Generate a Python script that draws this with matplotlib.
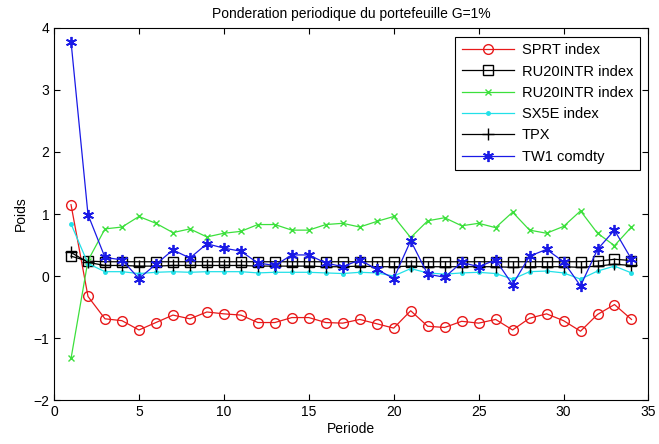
import numpy as np
import matplotlib
matplotlib.use("Agg")
import matplotlib.pyplot as plt

plt.rcParams['font.family'] = ['Liberation Sans Narrow', 'Liberation Sans', 'DejaVu Sans']

periods = np.arange(1, 35)

sprt = [1.15, -0.33, -0.69, -0.72, -0.87, -0.75, -0.63, -0.69, -0.58, -0.61,
        -0.63, -0.75, -0.75, -0.67, -0.67, -0.75, -0.76, -0.70, -0.77, -0.84,
        -0.56, -0.81, -0.83, -0.73, -0.76, -0.70, -0.87, -0.68, -0.61, -0.72,
        -0.89, -0.62, -0.46, -0.70]
ru20_sq = [0.32, 0.24, 0.23, 0.23, 0.23, 0.23, 0.23, 0.23, 0.23, 0.23,
           0.23, 0.23, 0.23, 0.23, 0.23, 0.23, 0.23, 0.23, 0.23, 0.23,
           0.23, 0.23, 0.23, 0.23, 0.23, 0.23, 0.23, 0.23, 0.23, 0.23,
           0.23, 0.24, 0.27, 0.25]
ru20_x = [-1.33, 0.25, 0.76, 0.79, 0.96, 0.85, 0.70, 0.76, 0.63, 0.69,
          0.72, 0.83, 0.83, 0.74, 0.74, 0.83, 0.85, 0.79, 0.88, 0.96,
          0.62, 0.89, 0.94, 0.81, 0.85, 0.78, 1.03, 0.74, 0.69, 0.80,
          1.05, 0.69, 0.49, 0.79]
sx5e = [0.84, 0.20, 0.07, 0.07, 0.04, 0.06, 0.07, 0.06, 0.07, 0.07,
        0.07, 0.05, 0.06, 0.06, 0.06, 0.05, 0.04, 0.06, 0.05, 0.00,
        0.12, 0.05, 0.03, 0.05, 0.06, 0.04, -0.05, 0.07, 0.08, 0.05,
        -0.05, 0.08, 0.16, 0.05]
tpx = [0.38, 0.22, 0.17, 0.17, 0.16, 0.16, 0.17, 0.17, 0.17, 0.17,
       0.17, 0.16, 0.16, 0.16, 0.16, 0.15, 0.15, 0.16, 0.15, 0.15,
       0.16, 0.15, 0.15, 0.15, 0.15, 0.15, 0.14, 0.15, 0.15, 0.15,
       0.14, 0.16, 0.19, 0.17]
tw1 = [3.78, 0.99, 0.30, 0.26, -0.04, 0.19, 0.42, 0.29, 0.52, 0.45,
       0.40, 0.21, 0.17, 0.34, 0.34, 0.21, 0.15, 0.26, 0.11, -0.04,
       0.57, 0.03, -0.02, 0.22, 0.15, 0.26, -0.14, 0.32, 0.43, 0.23,
       -0.16, 0.43, 0.74, 0.27]

labels = ['SPRT index', 'RU20INTR index', 'RU20INTR index',
          'SX5E index', 'TPX', 'TW1 comdty']

fig = plt.figure(figsize=(6.59, 4.44), dpi=100)
ax = fig.add_axes([0.082, 0.099, 0.902, 0.838])

lw = 0.9
ax.plot(periods, sprt, color='#e8191a', marker='o', markersize=7, mfc='none', lw=lw, label=labels[0])
ax.plot(periods, ru20_sq, color='black', marker='s', markersize=6.5, mfc='none', lw=lw, label=labels[1])
ax.plot(periods, ru20_x, color='#3ce03c', marker='x', markersize=5, lw=lw, label=labels[2])
ax.plot(periods, sx5e, color='#22e0e8', marker='.', markersize=5, lw=lw, label=labels[3])
ax.plot(periods, tpx, color='black', marker='+', markersize=9, lw=lw, label=labels[4])
# matlab-style asterisk
ax.plot(periods, tw1, color='#1a1ae6', marker=(6, 2, 0), markersize=8, mew=1.3, lw=lw, label=labels[5])

ax.set_xlim(0, 35)
ax.set_ylim(-2, 4)
ax.set_xticks(range(0, 36, 5))
ax.set_yticks(range(-2, 5))
ax.tick_params(direction='in', top=True, right=True, labelsize=10, length=4)
for s in ax.spines.values():
    s.set_linewidth(0.8)

ax.set_title('Ponderation periodique du portefeuille G=1%', fontsize=10,
             family=['Liberation Sans', 'DejaVu Sans'], pad=7)
ax.set_xlabel('Periode', fontsize=10, labelpad=2)
ax.set_ylabel('Poids', fontsize=10, labelpad=4)

leg = ax.legend(loc='upper right', fancybox=False, framealpha=1,
                edgecolor='black', handlelength=3.6, borderpad=0.45,
                labelspacing=0.5, handletextpad=0.5, borderaxespad=0.6,
                prop={'family': ['Liberation Sans', 'DejaVu Sans'], 'size': 10.5})
leg.get_frame().set_linewidth(0.8)

fig.savefig('out.png', dpi=100)
